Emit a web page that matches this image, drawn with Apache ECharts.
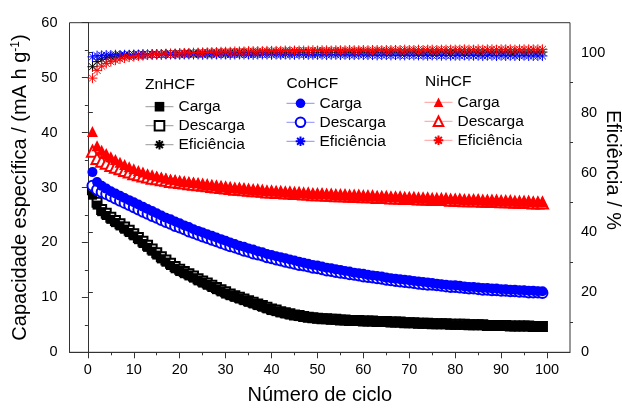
<!DOCTYPE html>
<html>
<head>
<meta charset="utf-8">
<script src="https://cdn.jsdelivr.net/npm/echarts@6/dist/echarts.min.js"></script>
<style>html,body{margin:0;padding:0;background:#fff}#c{width:622px;height:408px}</style>
</head>
<body>
<div id="c"></div>
<script>
// ---- data ----
var cycles = [1,2,3,4,5,6,7,8,9,10,11,12,13,14,15,16,17,18,19,20,21,22,23,24,25,26,27,28,29,30,
31,32,33,34,35,36,37,38,39,40,41,42,43,44,45,46,47,48,49,50,51,52,53,54,55,56,57,58,59,60,
61,62,63,64,65,66,67,68,69,70,71,72,73,74,75,76,77,78,79,80,81,82,83,84,85,86,87,88,89,90,
91,92,93,94,95,96,97,98,99];

var znCarga = [28.6,26.8,25.6,24.9,24.2,23.6,23.0,22.4,21.8,21.2,
20.5,19.8,19.1,18.4,17.7,17.0,16.4,15.8,15.2,14.7,
14.3,13.9,13.5,13.0,12.6,12.2,11.8,11.4,11.0,10.6,
10.3,10.0,9.7,9.4,9.1,8.8,8.5,8.2,7.9,7.6,
7.4,7.2,7.0,6.8,6.7,6.5,6.4,6.3,6.2,6.1,
6.0,6.0,5.9,5.9,5.8,5.8,5.7,5.7,5.7,5.6,
5.6,5.6,5.5,5.5,5.5,5.4,5.4,5.4,5.3,5.3,
5.3,5.2,5.2,5.2,5.1,5.1,5.1,5.1,5.0,5.0,
5.0,5.0,4.9,4.9,4.9,4.9,4.8,4.8,4.8,4.8,
4.8,4.7,4.7,4.7,4.7,4.7,4.6,4.6,4.6];
var znDescarga = [29.6,27.3,26.0,25.3,24.6,24.0,23.4,22.8,22.2,21.6,
20.9,20.2,19.5,18.8,18.1,17.4,16.8,16.2,15.6,15.1,
14.7,14.3,13.9,13.4,13.0,12.6,12.2,11.8,11.4,11.0,
10.6,10.3,10.0,9.7,9.4,9.1,8.8,8.5,8.2,7.9,
7.7,7.4,7.2,7.0,6.8,6.7,6.5,6.4,6.3,6.2,
6.1,6.1,6.0,6.0,5.9,5.9,5.8,5.8,5.8,5.7,
5.7,5.7,5.6,5.6,5.6,5.5,5.5,5.5,5.4,5.4,
5.4,5.3,5.3,5.3,5.2,5.2,5.2,5.2,5.1,5.1,
5.1,5.1,5.0,5.0,5.0,5.0,4.9,4.9,4.9,4.9,
4.9,4.8,4.8,4.8,4.8,4.8,4.7,4.7,4.7];
var znEficiencia = [95.3,97.0,97.8,98.3,98.6,98.8,99.0,99.1,99.2,99.3,
99.3,99.4,99.4,99.5,99.5,99.5,99.6,99.6,99.6,99.7,
99.7,99.7,99.7,99.8,99.8,99.8,99.8,99.9,99.9,99.9,
99.9,99.9,100.0,100.0,100.0,100.0,100.0,100.0,100.1,100.0,
100.1,100.0,100.1,100.1,100.0,100.1,100.1,100.1,100.0,100.1,
100.1,100.2,100.1,100.1,100.2,100.1,100.2,100.1,100.2,100.2,
100.1,100.2,100.2,100.1,100.2,100.2,100.2,100.1,100.2,100.2,
100.2,100.2,100.1,100.2,100.2,100.2,100.2,100.2,100.1,100.2,
100.2,100.2,100.2,100.2,100.2,100.1,100.2,100.2,100.2,100.2,
100.2,100.2,100.2,100.2,100.1,100.2,100.2,100.2,100.2];

var coCarga = [32.8,31.0,30.3,29.8,29.3,28.9,28.5,28.1,27.7,27.3,
26.9,26.5,26.1,25.7,25.3,24.9,24.5,24.2,23.8,23.5,
23.1,22.8,22.4,22.1,21.8,21.5,21.2,20.9,20.6,20.3,
20.0,19.7,19.4,19.2,18.9,18.7,18.4,18.2,17.9,17.7,
17.5,17.3,17.1,16.9,16.7,16.5,16.3,16.1,15.9,15.8,
15.6,15.4,15.3,15.1,15.0,14.8,14.7,14.5,14.4,14.3,
14.1,14.0,13.9,13.8,13.6,13.5,13.4,13.3,13.2,13.1,
13.0,12.9,12.8,12.7,12.6,12.5,12.4,12.3,12.2,12.2,
12.1,12.0,11.9,11.9,11.8,11.7,11.7,11.6,11.6,11.5,
11.5,11.4,11.4,11.3,11.3,11.2,11.2,11.1,11.1];
var coDescarga = [30.3,29.6,29.2,28.8,28.4,28.0,27.6,27.2,26.8,26.4,
26.0,25.6,25.2,24.8,24.5,24.1,23.7,23.4,23.0,22.7,
22.4,22.0,21.7,21.4,21.1,20.8,20.5,20.2,19.9,19.6,
19.3,19.1,18.8,18.5,18.3,18.0,17.8,17.6,17.3,17.1,
16.9,16.7,16.5,16.3,16.1,15.9,15.8,15.6,15.4,15.3,
15.1,14.9,14.8,14.6,14.5,14.4,14.2,14.1,14.0,13.8,
13.7,13.6,13.5,13.4,13.2,13.1,13.0,12.9,12.8,12.7,
12.6,12.5,12.4,12.3,12.3,12.2,12.1,12.0,11.9,11.9,
11.8,11.7,11.6,11.6,11.5,11.4,11.4,11.3,11.3,11.2,
11.2,11.1,11.1,11.0,11.0,10.9,10.9,10.9,10.8];
var coEficiencia = [98.6,99.0,99.1,99.2,99.2,99.3,99.2,99.3,99.3,99.3,
99.3,99.4,99.3,99.4,99.4,99.3,99.4,99.4,99.4,99.3,
99.4,99.4,99.4,99.4,99.3,99.4,99.4,99.4,99.4,99.4,
99.3,99.4,99.4,99.4,99.4,99.3,99.4,99.4,99.4,99.3,
99.4,99.3,99.4,99.3,99.3,99.4,99.3,99.3,99.3,99.3,
99.3,99.2,99.3,99.3,99.2,99.3,99.2,99.2,99.3,99.2,
99.2,99.2,99.1,99.2,99.2,99.1,99.2,99.1,99.1,99.2,
99.1,99.1,99.1,99.0,99.1,99.1,99.0,99.1,99.0,99.0,
99.0,99.1,99.0,99.0,99.0,98.9,99.0,99.0,98.9,99.0,
98.9,99.0,98.9,98.9,99.0,98.9,98.9,98.9,98.9];

var niCarga = [40.2,37.6,36.8,36.2,35.6,35.1,34.6,34.2,33.8,33.4,
33.1,32.8,32.5,32.3,32.1,31.9,31.7,31.5,31.4,31.2,
31.1,31.0,30.9,30.8,30.6,30.5,30.4,30.3,30.2,30.1,
30.0,29.9,29.9,29.8,29.7,29.6,29.6,29.5,29.4,29.4,
29.3,29.3,29.2,29.2,29.1,29.1,29.0,29.0,28.9,28.9,
28.9,28.8,28.8,28.7,28.7,28.7,28.6,28.6,28.6,28.5,
28.5,28.5,28.4,28.4,28.4,28.3,28.3,28.3,28.2,28.2,
28.2,28.1,28.1,28.1,28.0,28.0,28.0,28.0,27.9,27.9,
27.9,27.8,27.8,27.8,27.8,27.7,27.7,27.7,27.7,27.6,
27.6,27.6,27.5,27.5,27.5,27.5,27.4,27.4,27.4];
var niDescarga = [36.6,35.3,34.8,34.4,34.0,33.7,33.4,33.1,32.8,32.5,
32.3,32.1,31.9,31.7,31.6,31.4,31.3,31.1,31.0,30.9,
30.8,30.7,30.6,30.5,30.4,30.3,30.2,30.1,30.0,29.9,
29.8,29.7,29.7,29.6,29.5,29.4,29.4,29.3,29.2,29.2,
29.1,29.1,29.0,29.0,28.9,28.9,28.8,28.8,28.7,28.7,
28.7,28.6,28.6,28.5,28.5,28.5,28.4,28.4,28.4,28.3,
28.3,28.3,28.2,28.2,28.2,28.1,28.1,28.1,28.0,28.0,
28.0,27.9,27.9,27.9,27.8,27.8,27.8,27.8,27.7,27.7,
27.7,27.6,27.6,27.6,27.6,27.5,27.5,27.5,27.5,27.4,
27.4,27.4,27.3,27.3,27.3,27.3,27.2,27.2,27.2];
var niEficiencia = [91.5,94.1,95.5,96.4,97.0,97.5,97.9,98.2,98.5,98.7,
98.9,99.0,99.2,99.3,99.4,99.5,99.6,99.7,99.7,99.8,
99.9,99.9,100.0,100.0,100.1,100.1,100.2,100.2,100.3,100.3,
100.3,100.4,100.4,100.4,100.5,100.5,100.5,100.5,100.6,100.6,
100.6,100.6,100.7,100.6,100.7,100.7,100.7,100.7,100.8,100.7,
100.8,100.8,100.7,100.8,100.8,100.8,100.9,100.8,100.8,100.9,
100.8,100.9,100.9,100.8,100.9,100.9,100.9,100.9,101.0,100.9,
100.9,101.0,100.9,101.0,101.0,100.9,101.0,101.0,101.0,101.0,
101.0,101.1,101.0,101.0,101.1,101.0,101.1,101.1,101.0,101.1,
101.1,101.1,101.0,101.1,101.1,101.1,101.1,101.1,101.1];

var xMajorTicks = [0,10,20,30,40,50,60,70,80,90,100];
var xMinorTicks = [5,15,25,35,45,55,65,75,85,95];
var rightMajorTicks = [0,20,40,60,80,100];
var rightMinorTicks = [10,30,50,70,90];

// ---- chart ----
var FONT = 'Liberation Sans, Arial, sans-serif';
var AX = '#333';
var STAR = 'path://M0,-10L0,10M-10,0L10,0M-7.07,-7.07L7.07,7.07M-7.07,7.07L7.07,-7.07';

function pts(vals){ return cycles.map(function(c,i){ return [c, vals[i]]; }); }
function mk(name, vals, yIdx, symbol, size, color, kind){
  var s = {
    name: name, type: 'line', data: pts(vals), yAxisIndex: yIdx,
    symbol: symbol, symbolSize: size, showSymbol: true, showAllSymbol: true,
    lineStyle: {opacity: 0, width: 1, color: color},
    silent: true, emphasis: {disabled: true}, animation: false
  };
  if (kind === 'fill') s.itemStyle = {color: color, borderWidth: 0};
  else if (kind === 'empty') s.itemStyle = {color: color, borderColor: color, borderWidth: 1};
  else s.itemStyle = {color: 'rgba(0,0,0,0)', borderColor: color, borderWidth: 1};
  return s;
}

var series = [
  mk('Zn Descarga', znDescarga, 0, 'emptyRect', 9, '#000', 'empty'),
  mk('Zn Carga', znCarga, 0, 'rect', 9, '#000', 'fill'),
  mk('Zn Eficiência', znEficiencia, 1, STAR, 10, '#000', 'star'),
  mk('Co Descarga', coDescarga, 0, 'emptyCircle', 10, '#0000ff', 'empty'),
  mk('Co Carga', coCarga, 0, 'circle', 10, '#0000ff', 'fill'),
  mk('Co Eficiência', coEficiencia, 1, STAR, 10, '#0000ff', 'star'),
  mk('Ni Descarga', niDescarga, 0, 'emptyTriangle', 11, '#ff0000', 'empty'),
  mk('Ni Carga', niCarga, 0, 'triangle', 11, '#ff0000', 'fill'),
  mk('Ni Eficiência', niEficiencia, 1, STAR, 10, '#ff0000', 'star')
];

function legendFor(prefix, left, top, lineColor){
  var ls = {color: lineColor, width: 1, opacity: 1};
  return {
    orient: 'vertical', left: left, top: top, itemWidth: 28, itemHeight: 12, itemGap: 0,
    selectedMode: false, padding: 0,
    data: [{name: prefix + ' Carga', lineStyle: ls}, {name: prefix + ' Descarga', lineStyle: ls}, {name: prefix + ' Eficiência', lineStyle: ls}],
    formatter: function(n){
      var t = n.split(' ')[1];
      if (n === 'Ni Eficiência') return 'Eficiênci{s|a}';
      return t;
    },
    textStyle: {fontFamily: FONT, fontSize: 15.5, color: '#000', lineHeight: 19,
      rich: {s: {fontFamily: FONT, fontSize: 12.5, color: '#000', lineHeight: 19, padding: [3,0,0,0]}}}
  };
}

var chart = echarts.init(document.getElementById('c'), null, {renderer: 'canvas'});
chart.setOption({
  animation: false,
  backgroundColor: '#fff',
  grid: {left: 69.5, right: 52, top: 22.7, bottom: 55.7, outerBoundsMode: 'none', containLabel: false,
         show: true, borderColor: AX, borderWidth: 1, backgroundColor: 'transparent'},
  xAxis: [
    {type: 'value', min: -4, max: 105, position: 'bottom',
     name: 'Número de ciclo', nameLocation: 'middle', nameGap: 33,
     nameTextStyle: {fontFamily: FONT, fontSize: 20, color: '#000'},
     axisLine: {show: true, lineStyle: {color: AX, width: 1}},
     axisTick: {show: true, length: 6, customValues: xMajorTicks, lineStyle: {color: AX}},
     axisLabel: {customValues: xMajorTicks, margin: 10, fontFamily: FONT, fontSize: 14.5, color: '#000'},
     splitLine: {show: false}},
    {type: 'value', min: -4, max: 105, position: 'bottom',
     axisLine: {show: false},
     axisTick: {show: true, length: 3, customValues: xMinorTicks, lineStyle: {color: AX}},
     axisLabel: {show: false}, splitLine: {show: false}}
  ],
  yAxis: [
    {type: 'value', min: 0, max: 60, interval: 10, position: 'left',
     name: 'Capacidade específica / (mA h g{sup|-1})', nameLocation: 'middle', nameGap: 37, nameRotate: 90,
     nameTextStyle: {fontFamily: FONT, fontSize: 20, color: '#000',
       rich: {sup: {fontFamily: FONT, fontSize: 12, color: '#000', verticalAlign: 'top', padding: [0,0,10,0]}}},
     axisLine: {show: true, lineStyle: {color: AX, width: 1}},
     axisTick: {show: true, length: 6, lineStyle: {color: AX}},
     minorTick: {show: true, splitNumber: 2, length: 3, lineStyle: {color: AX}},
     axisLabel: {margin: 12, fontFamily: FONT, fontSize: 14.5, color: '#000'},
     splitLine: {show: false}, minorSplitLine: {show: false}},
    {type: 'value', min: 0, max: 110, position: 'right',
     axisLine: {show: true, lineStyle: {color: AX, width: 1}},
     axisTick: {show: true, length: 5, customValues: rightMajorTicks, lineStyle: {color: AX}},
     axisLabel: {customValues: rightMajorTicks, margin: 11, fontFamily: FONT, fontSize: 14.5, color: '#000'},
     splitLine: {show: false}},
    {type: 'value', min: 0, max: 110, position: 'right',
     axisLine: {show: false},
     axisTick: {show: true, length: 3, customValues: rightMinorTicks, lineStyle: {color: AX}},
     axisLabel: {show: false}, splitLine: {show: false}}
  ],
  legend: [
    legendFor('Zn', 145, 97.2, '#999999'),
    legendFor('Co', 286, 93.8, '#8c8cff'),
    legendFor('Ni', 424, 92.8, '#ff9c9c')
  ],
  graphic: [
    {type: 'text', left: 145, top: 77, style: {text: 'ZnHCF', font: '15.5px ' + FONT, fill: '#000'}},
    {type: 'text', left: 286.5, top: 76, style: {text: 'CoHCF', font: '15.5px ' + FONT, fill: '#000'}},
    {type: 'text', left: 425, top: 73.5, style: {text: 'NiHCF', font: '15.5px ' + FONT, fill: '#000'}},
    {type: 'text', x: 613, y: 170, rotation: -Math.PI / 2,
     style: {text: 'Eficiência / %', font: '20px ' + FONT, fill: '#000', align: 'center', verticalAlign: 'middle'}}
  ],
  series: series
});
</script>
</body>
</html>
